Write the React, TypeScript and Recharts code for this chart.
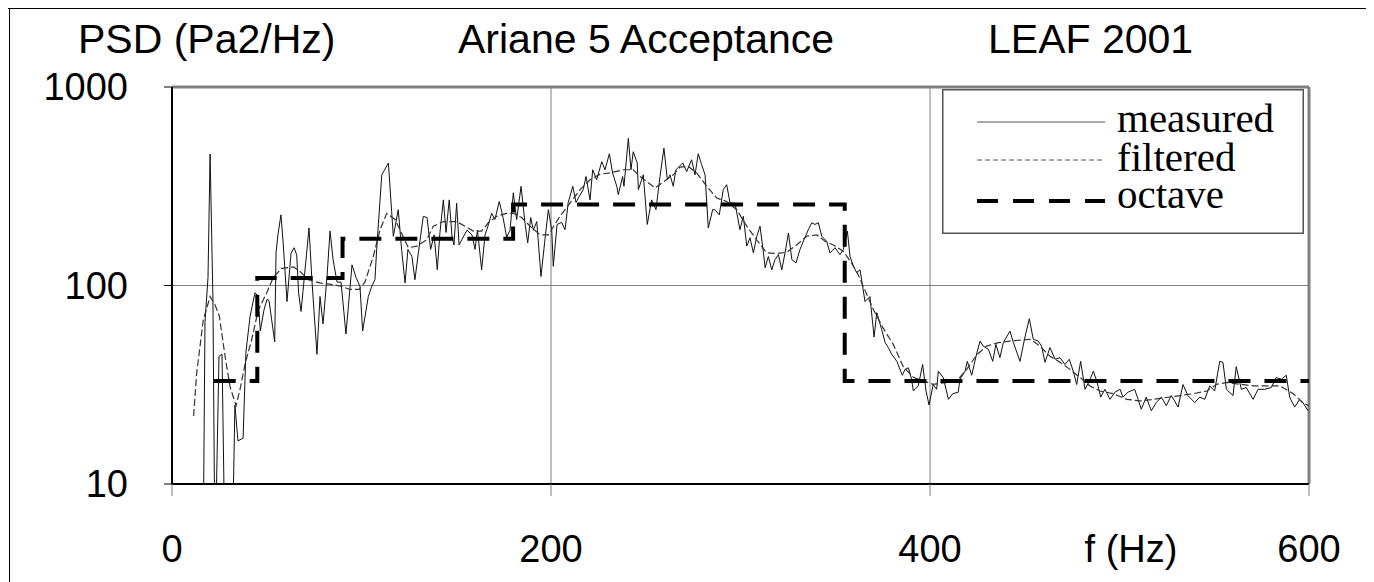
import type { ReactElement } from "react";
import {
  CartesianGrid,
  Legend,
  Line,
  LineChart,
  ReferenceLine,
  XAxis,
  YAxis,
} from "recharts";

type Row = { f: number; v: number };

const freqTicks = [0, 200, 400, 600];
const psdTicks = [10, 100, 1000];

// [frequency Hz, PSD Pa2/Hz]
const measured: [number, number][] = [
  [16.4, 4], [17.4, 65], [19.0, 110], [20.1, 460], [21.6, 85], [22.7, 4], [24.8, 44], [26.4, 45],
  [28.0, 4], [31.7, 4], [33.2, 25], [34.8, 16.5], [37.5, 17], [39.0, 46], [41.2, 70], [43.8, 92],
  [45.4, 88], [46.6, 59], [48.5, 75], [50.1, 85], [51.2, 84], [54.2, 52], [54.9, 146], [55.9, 180],
  [57.5, 227], [58.6, 167], [60.7, 83], [62.8, 145], [64.4, 155], [65.8, 143], [66.8, 92], [68.1, 74],
  [69.1, 93], [72.3, 195], [73.9, 104], [76.5, 45], [78.1, 88], [79.7, 64], [81.8, 111], [83.4, 188],
  [85.0, 135], [87.1, 104], [89.2, 104], [91.8, 57], [95.0, 127], [97.1, 110], [99.2, 99], [100.6, 59],
  [103.6, 88], [105.4, 99], [107.1, 107], [108.0, 152], [110.7, 361], [114.2, 414], [115.9, 236],
  [116.8, 177], [119.4, 241], [121.2, 150], [123.0, 103], [124.5, 152], [126.6, 140], [128.2, 107],
  [130.0, 146], [132.6, 223], [134.6, 220], [136.5, 152], [138.3, 180], [140.0, 120], [141.4, 185],
  [143.2, 270], [144.6, 185], [146.3, 270], [147.8, 175], [148.8, 160], [150.2, 260], [151.5, 160],
  [152.9, 170], [155.7, 190], [158.3, 180], [159.9, 152], [161.2, 190], [163.4, 120], [165.2, 180],
  [166.8, 200], [168.7, 231], [170.4, 215], [172.7, 265], [174.7, 220], [176.6, 175], [178.4, 190],
  [180.1, 293], [181.9, 215], [184.2, 316], [186.3, 205], [187.7, 164], [189.3, 220], [190.7, 190],
  [192.5, 210], [194.7, 111], [196.8, 170], [198.6, 241], [200.4, 190], [201.2, 125], [203.2, 203],
  [205.6, 208], [207.4, 191], [209.1, 262], [211.5, 316], [213.2, 262], [214.9, 281], [217.0, 304],
  [218.5, 354], [220.6, 270], [222.0, 383], [224.1, 341], [226.8, 421], [228.5, 383], [230.8, 461],
  [232.5, 369], [234.7, 316], [235.5, 287], [237.8, 354], [238.5, 316], [240.8, 551], [242.2, 383],
  [243.4, 472], [245.5, 414], [246.1, 304], [248.7, 361], [250.8, 203], [253.1, 270], [255.4, 241],
  [257.5, 354], [259.6, 492], [261.4, 341], [262.8, 361], [264.5, 316], [265.9, 383], [269.5, 414],
  [271.6, 375], [274.2, 430], [276.0, 361], [277.7, 461], [279.5, 406], [281.3, 361], [283.0, 195],
  [285.3, 241], [286.5, 241], [288.8, 227], [290.9, 304], [292.7, 322], [294.5, 260], [297.1, 260],
  [299.7, 191], [301.5, 223], [303.3, 158], [305.0, 174], [306.8, 146], [308.6, 177], [310.3, 199],
  [312.1, 146], [313.0, 123], [314.7, 140], [316.5, 120], [318.2, 135], [320.0, 143], [321.8, 120],
  [323.5, 146], [325.3, 184], [327.1, 135], [329.3, 130], [331.4, 152], [333.5, 170], [335.8, 191],
  [337.6, 207], [339.3, 203], [341.1, 207], [342.9, 177], [345.5, 167], [347.2, 146], [349.9, 155],
  [352.5, 143], [354.3, 152], [356.4, 188], [357.8, 140], [359.6, 125], [361.3, 116], [363.1, 120],
  [365.7, 83], [368.3, 88], [370.5, 55], [371.9, 73], [374.5, 60], [376.3, 51.6], [378.0, 48.7],
  [379.8, 45], [382.5, 41.5], [385.4, 35.3], [386.8, 37.8], [388.6, 38.5], [390.3, 33.7], [391.2, 29.4],
  [393.8, 31.2], [396.1, 40], [397.9, 29.4], [399.5, 25], [401.7, 31.7], [403.5, 30], [404.4, 37],
  [407.0, 34.4], [409.7, 26.7], [412.0, 28.5], [414.9, 29], [415.8, 33.7], [418.5, 37], [419.7, 41.5],
  [422.0, 35.3], [424.3, 44], [426.4, 52.5], [428.1, 49.5], [430.8, 47.7], [433.1, 41.5], [434.8, 50.5],
  [436.9, 43.3], [438.7, 51.6], [442.2, 58.9], [444.0, 51.6], [447.5, 41.5], [450.1, 55], [452.4, 68],
  [454.5, 53.6], [457.1, 52.5], [458.9, 49.5], [460.7, 41], [463.3, 48.7], [466.0, 42.5], [468.6, 43.3],
  [471.2, 40], [473.5, 42.5], [475.6, 37], [477.4, 31.7], [479.5, 41.5], [481.8, 30], [484.1, 33],
  [486.2, 37], [488.0, 33], [490.1, 27.4], [492.3, 30], [495.0, 26.7], [497.6, 29], [500.3, 30],
  [501.8, 27.4], [504.5, 29], [508.0, 30], [509.8, 26.7], [511.5, 23.8], [514.1, 27.4], [516.8, 23.4],
  [519.4, 25.7], [522.1, 27.4], [524.7, 24.8], [527.3, 27.9], [529.1, 26.2], [530.9, 24.4], [533.5, 31.7],
  [536.1, 27.9], [539.7, 25.7], [542.3, 27.4], [545.0, 26.7], [547.6, 31.2], [550.2, 29.4], [552.9, 41.5],
  [554.6, 41], [556.4, 30], [559.9, 27.9], [561.6, 39], [564.3, 30], [566.9, 30.6], [570.5, 26.7],
  [573.1, 30], [576.6, 30], [580.1, 30.6], [582.7, 34.4], [585.4, 33.7], [588.0, 35.3], [589.8, 27.4],
  [592.4, 24.4], [595.1, 26.7], [596.8, 25.7], [599.5, 23.4],
];

const filtered: [number, number][] = [
  [11.4, 22], [13.0, 36], [16.5, 67], [20.1, 88], [22.7, 80], [25.0, 70], [28.0, 44], [30.6, 31],
  [33.8, 24.8], [35.9, 30], [38.5, 40], [42.1, 53.6], [45.5, 75], [50.0, 92], [53.5, 110], [57.9, 122],
  [64.0, 124], [67.5, 118], [71.9, 107], [78.1, 103], [85.1, 101], [89.6, 99], [93.9, 95.5], [98.8, 95.5],
  [101.8, 104], [106.2, 140], [109.8, 191], [113.3, 231], [117.7, 215], [120.3, 191], [124.7, 155],
  [129.3, 158], [134.4, 170], [137.9, 199], [143.2, 210], [150.2, 210], [154.6, 199], [159.0, 188],
  [163.4, 188], [166.9, 207], [171.3, 223], [176.6, 231], [180.1, 231], [184.5, 220], [188.9, 199],
  [194.2, 180], [198.6, 180], [204.7, 223], [210.0, 260], [215.3, 304], [220.6, 341], [225.9, 364],
  [231.1, 369], [238.2, 383], [243.4, 383], [247.0, 354], [254.9, 310], [264.5, 361], [268.1, 395],
  [272.5, 398], [276.9, 369], [282.2, 316], [287.4, 276], [292.7, 265], [298.0, 241], [303.3, 199],
  [308.5, 170], [313.8, 146], [319.1, 145], [324.4, 147], [329.6, 160], [334.9, 177], [340.2, 180],
  [344.6, 167], [349.0, 160], [354.2, 149], [357.8, 133], [361.3, 118], [364.8, 99], [370.1, 75.7],
  [375.3, 61], [380.6, 50.5], [385.9, 39], [391.2, 34.5], [396.5, 33], [401.7, 31.8], [414.1, 33],
  [419.4, 37.8], [424.6, 44.7], [429.9, 49.5], [436.0, 51.5], [442.2, 52.5], [452.8, 53.6], [458.0, 49.5],
  [463.3, 44], [468.6, 41], [473.9, 37.8], [479.2, 34.4], [484.4, 31.2], [489.7, 29.4], [496.7, 28.5],
  [503.8, 26.7], [510.8, 26.2], [517.8, 26.7], [531.9, 27.9], [538.9, 28.5], [546.0, 29.4], [551.3, 31.8],
  [556.6, 32.5], [563.6, 31.8], [570.6, 31.2], [584.7, 31.2], [591.7, 28.5], [597.0, 25.5], [600, 24.8],
];

// octave band levels, each value holds until the next band edge
const octave: [number, number][] = [
  [22, 33], [45, 109], [90, 172], [180, 256], [355, 33], [600, 33],
];

const toRows = (pairs: [number, number][]): Row[] => pairs.map(([f, v]) => ({ f, v }));

const SANS = "'Liberation Sans', Arial, sans-serif";
const SERIF = "'Liberation Serif', 'Times New Roman', serif";

function LegendBox(): ReactElement {
  const text = { fontFamily: SERIF, fontSize: 41, fill: "#000" };
  return (
    <svg width={362} height={145} style={{ display: "block" }}>
      <rect x={0.75} y={0.75} width={360.5} height={143.5} fill="#fff" stroke="#555" strokeWidth={1.5} />
      <line x1={35} x2={163} y1={33} y2={33} stroke="#555" strokeWidth={1} />
      <line x1={35} x2={163} y1={71} y2={71} stroke="#555" strokeWidth={1} strokeDasharray="5 3" />
      <line x1={35} x2={163} y1={112} y2={112} stroke="#000" strokeWidth={4} strokeDasharray="21 15" />
      <text x={175} y={43} {...text}>measured</text>
      <text x={175} y={82} {...text}>filtered</text>
      <text x={175} y={119} {...text}>octave</text>
    </svg>
  );
}

export default function App(): ReactElement {
  const tickStyle = { fontFamily: SANS, fontSize: 38, fill: "#000" };
  const titleStyle = { fontFamily: SANS, fontSize: 41, fill: "#000" };

  return (
    <div style={{ position: "relative", width: 1366, height: 574 }}>
      <LineChart
        width={1366}
        height={574}
        margin={{ top: 79, right: 65, bottom: 38, left: 44 }}
      >
        <CartesianGrid stroke="#808080" strokeWidth={1} />
        <XAxis
          dataKey="f"
          type="number"
          domain={[0, 600]}
          ticks={freqTicks}
          allowDataOverflow
          height={60}
          tick={tickStyle}
          tickSize={12}
          tickMargin={39}
          tickLine={{ stroke: "#808080" }}
          axisLine={{ stroke: "#000", strokeWidth: 2 }}
        />
        <YAxis
          dataKey="v"
          scale="log"
          domain={[10, 1000]}
          ticks={psdTicks}
          allowDataOverflow
          width={120}
          tick={tickStyle}
          tickSize={8}
          tickMargin={36}
          tickLine={{ stroke: "#000" }}
          axisLine={{ stroke: "#000", strokeWidth: 2 }}
        />
        <ReferenceLine y={1000} stroke="#808080" strokeWidth={3} />
        <ReferenceLine x={600} stroke="#808080" strokeWidth={3} />
        <Line
          data={toRows(measured)}
          dataKey="v"
          type="linear"
          stroke="#111"
          strokeWidth={1}
          dot={false}
          isAnimationActive={false}
        />
        <Line
          data={toRows(filtered)}
          dataKey="v"
          type="linear"
          stroke="#333"
          strokeWidth={1.2}
          strokeDasharray="7 3"
          dot={false}
          isAnimationActive={false}
        />
        <Line
          data={toRows(octave)}
          dataKey="v"
          type="stepAfter"
          stroke="#000"
          strokeWidth={4}
          strokeDasharray="22 14"
          dot={false}
          isAnimationActive={false}
        />
        <Legend
          layout="vertical"
          align="center"
          verticalAlign="middle"
          content={() => <LegendBox />}
          wrapperStyle={{ left: 934, top: 81, width: 362, height: 145 }}
        />
      </LineChart>
      <svg
        width={1366}
        height={574}
        style={{ position: "absolute", left: 0, top: 0, pointerEvents: "none" }}
      >
        <line x1={1.5} x2={1.5} y1={0} y2={574} stroke="#000" strokeWidth={1} />
        <line x1={0} x2={1366} y1={0.5} y2={0.5} stroke="#000" strokeWidth={1} />
        <text x={70} y={45} {...titleStyle}>PSD (Pa2/Hz)</text>
        <text x={450} y={45} {...titleStyle}>Ariane 5 Acceptance</text>
        <text x={980} y={45} {...titleStyle}>LEAF 2001</text>
        <text x={1123} y={554} textAnchor="middle" {...tickStyle}>f (Hz)</text>
      </svg>
    </div>
  );
}
